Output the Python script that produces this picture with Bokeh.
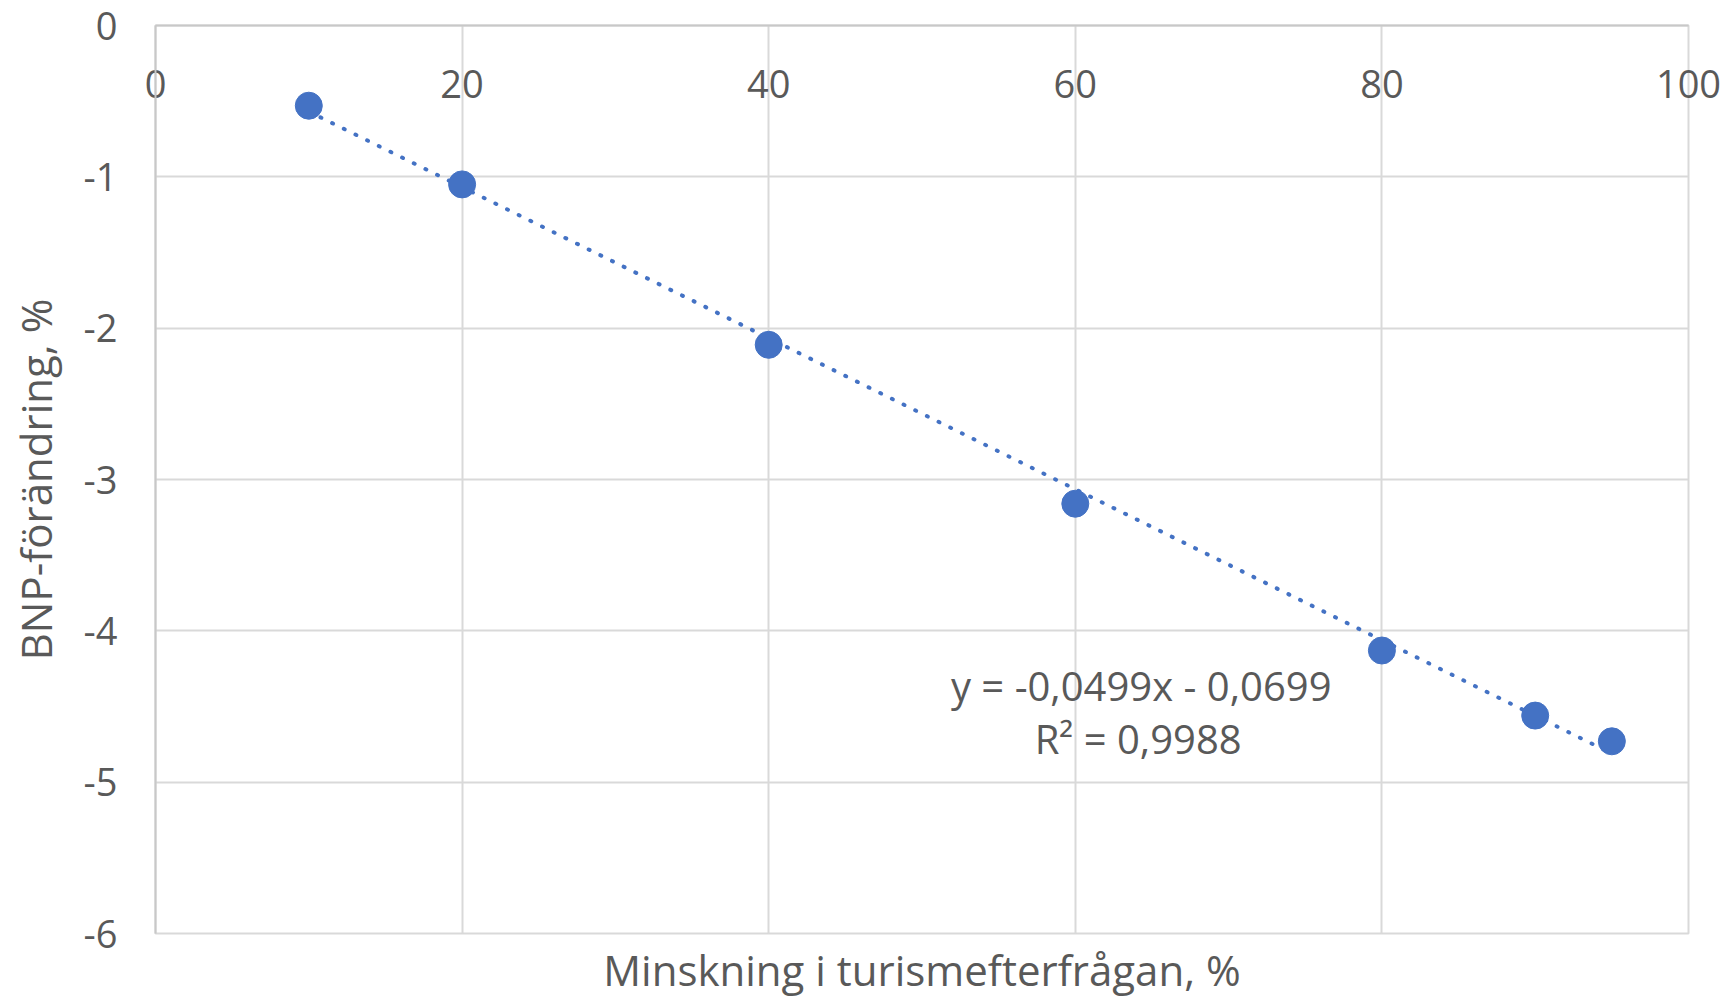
from bokeh.plotting import figure
from bokeh.models import Range1d, FixedTicker, Label, Title, LinearAxis
from bokeh.embed import file_html
from bokeh.resources import INLINE

# Data
x_vals = [10, 20, 40, 60, 80, 90, 95]
y_vals = [-0.53, -1.05, -2.11, -3.16, -4.13, -4.56, -4.73]
x_ticks = [0, 20, 40, 60, 80, 100]
y_ticks = [0, -1, -2, -3, -4, -5, -6]
trend_slope = -0.0499
trend_intercept = -0.0699
trend_x = [10, 95]
equation_text = "y = -0,0499x - 0,0699"
r2_text = "R\u00b2 = 0,9988"
x_title = "Minskning i turismefterfrågan, %"
y_title = "BNP-förändring, %"

FONT = "Open Sans"
TXT = "#595959"
BLUE = "#4472C4"
GRID = "#d9d9d9"

p = figure(width=1732, height=1002, output_backend="svg", toolbar_location=None,
           x_range=Range1d(0, 100), y_range=Range1d(-6, 0), x_axis_location=None,
           min_border_left=155, min_border_right=44, min_border_top=25, min_border_bottom=10)
p.background_fill_color = "white"
p.border_fill_color = "white"
p.outline_line_color = GRID
p.outline_line_width = 2

# grids
p.xgrid.ticker = FixedTicker(ticks=x_ticks)
p.ygrid.ticker = FixedTicker(ticks=y_ticks)
for g in (p.xgrid, p.ygrid):
    g.grid_line_color = GRID
    g.grid_line_width = 2

# x axis crosses at y = 0 (the top edge); its labels hang below the line
xa = LinearAxis(ticker=FixedTicker(ticks=x_ticks))
xa.major_label_overrides = {t: str(t) for t in x_ticks}
xa.major_tick_in = 0
xa.major_tick_out = 0
xa.minor_tick_in = 0
xa.minor_tick_out = 0
xa.axis_line_color = "#c8c8c8"
xa.axis_line_width = 2
xa.major_label_standoff = -72
xa.major_label_text_font = FONT
xa.major_label_text_font_size = "38px"
xa.major_label_text_color = TXT
p.add_layout(xa, "above")

ya = p.yaxis[0]
ya.ticker = FixedTicker(ticks=y_ticks)
ya.major_label_overrides = {t: str(t) for t in y_ticks}
ya.major_tick_in = 0
ya.major_tick_out = 0
ya.minor_tick_in = 0
ya.minor_tick_out = 0
ya.axis_line_color = "#c8c8c8"
ya.axis_line_width = 2
ya.major_label_standoff = 38
ya.major_label_text_font = FONT
ya.major_label_text_font_size = "38px"
ya.major_label_text_color = TXT
ya.axis_label = y_title
ya.axis_label_text_font = FONT
ya.axis_label_text_font_size = "42px"
ya.axis_label_text_font_style = "normal"
ya.axis_label_text_color = TXT
ya.axis_label_standoff = 17

p.add_layout(Title(text=x_title, align="center", text_font=FONT, text_font_size="42px",
                   text_font_style="normal", text_color=TXT, standoff=10), "below")

# trend line
trend_y = [trend_slope * x + trend_intercept for x in trend_x]
p.line(trend_x, trend_y, line_color=BLUE, line_width=4, line_dash="1 12", line_cap="round")

# points
p.scatter(x_vals, y_vals, size=27, fill_color=BLUE, line_color=BLUE)

# equation labels
p.add_layout(Label(x=64.3, y=-4.36, text=equation_text, text_align="center", text_baseline="middle",
                   text_font=FONT, text_font_size="40px", text_color=TXT))
p.add_layout(Label(x=64.1, y=-4.71, text=r2_text, text_align="center", text_baseline="middle",
                   text_font=FONT, text_font_size="40px", text_color=TXT))

open("out.html", "w").write(file_html(p, INLINE))
